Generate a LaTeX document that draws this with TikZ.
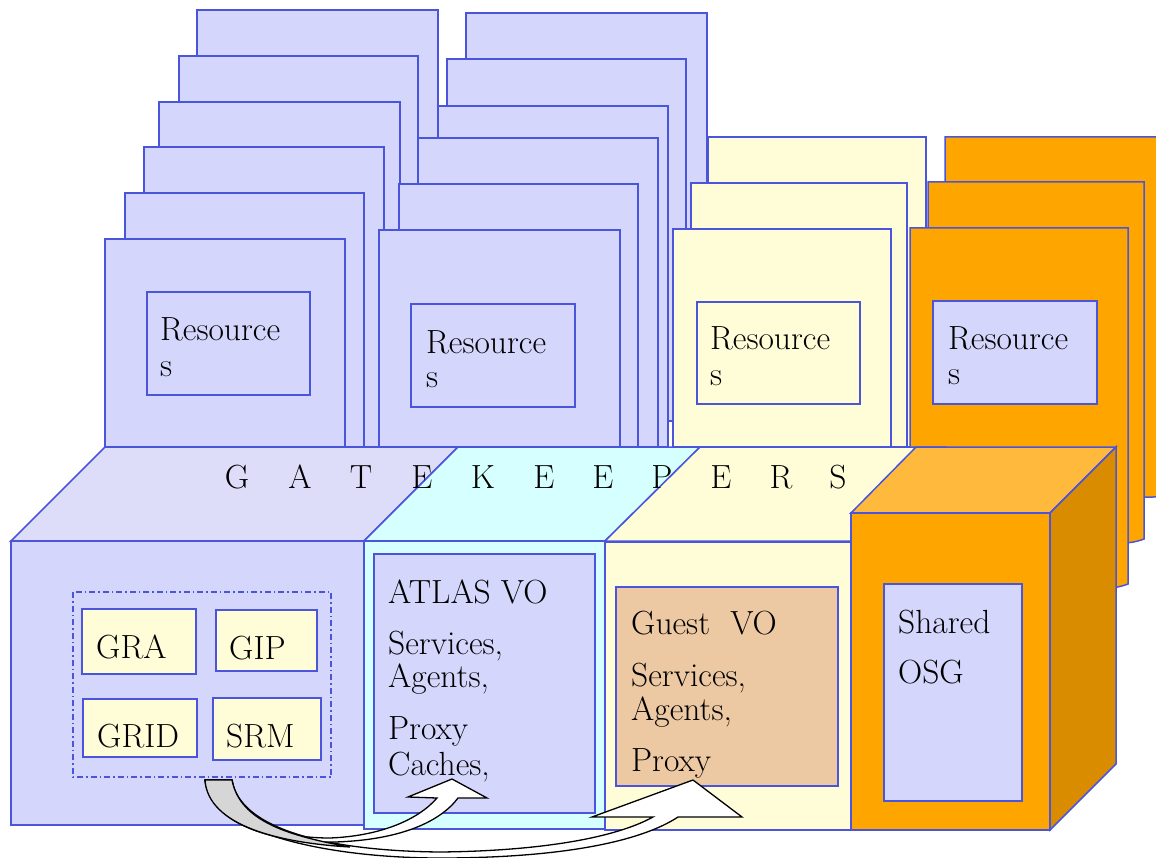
\documentclass[tikz,border=0pt]{standalone}
\definecolor{bl}{RGB}{75,85,220}
\definecolor{lavc}{RGB}{213,214,252}
\definecolor{lavtop}{RGB}{221,221,250}
\definecolor{cyanc}{RGB}{214,255,255}
\definecolor{yelc}{RGB}{255,253,216}
\definecolor{tanc}{RGB}{237,201,163}
\definecolor{orc}{RGB}{255,165,0}
\definecolor{ortop}{RGB}{255,185,60}
\definecolor{orside}{RGB}{218,140,0}
\definecolor{grayc}{RGB}{214,214,214}
\begin{document}
\begin{tikzpicture}[x=1pt,y=-1pt,
  edge/.style={draw=bl,line width=1.5pt,line join=miter},
  lavbox/.style={edge,fill=lavc},
  yelbox/.style={edge,fill=yelc},
  orbox/.style={edge,fill=orc},
  txt/.style={anchor=base west,inner sep=0pt,font=\fontsize{33.5}{40}\selectfont},
  gk/.style={anchor=base,inner sep=0pt,font=\fontsize{33.5}{40}\selectfont},
  arr/.style={draw=black,line width=1.3pt,line join=miter,fill=white},
]
\useasboundingbox (0,0) rectangle (1156,858);
\clip (0,0) rectangle (1156,858);
\fill[white] (0,0) rectangle (1156,858);

% left resource stack
\foreach \l/\t/\r in {197/10/438,179/56/418,159/102/400,144/147/384,125/193/364,105/239/345}
  \draw[lavbox] (\l,\t) rectangle (\r,447);
\draw[lavbox] (147,292) rectangle (310,395);
\node[txt] (r1a) at (160,341) {Resource};
\node[txt] (r1b) at (160,376) {s};

% middle resource stack
\foreach \l/\t/\r/\b in {466/13/707/421,447/59/686/421,438/106/668/447,418/138/658/447,399/184/638/447,379/230/620/447}
  \draw[lavbox] (\l,\t) rectangle (\r,\b);
\draw[lavbox] (411,304) rectangle (575,407);
\node[txt] (r2a) at (426,353) {Resource};
\node[txt] (r2b) at (426,387) {s};

% yellow resource stack
\foreach \l/\t/\r in {708/137/926,691/183/907,673/229/891}
  \draw[yelbox] (\l,\t) rectangle (\r,447);
\draw[yelbox] (697,302) rectangle (860,404);
\node[txt] (r3a) at (710,350) {Resource};
\node[txt] (r3b) at (710,385) {s};

% orange resource stack
\foreach \l/\t/\r/\b in {945/137/1175/497,928/182/1144/543,910/228/1128/588}
  \draw[orbox] (\l,\b) -- (\l,\t) -- (\r,\t) -- (\r,\b-4) .. controls (\r-8,\b-1) and (\r-14,\b) .. (\r-22,\b) -- cycle;
\draw[lavbox] (933,301) rectangle (1097,404);
\node[txt] (r4a) at (948,349) {Resource};
\node[txt] (r4b) at (948,384) {s};

% gatekeeper slab: left part
\draw[edge,fill=lavtop] (105,447) -- (458,447) -- (364,541) -- (11,541) -- cycle;
\draw[lavbox] (11,541) rectangle (364,825);
% cyan part
\draw[edge,fill=cyanc] (458,447) -- (700,447) -- (605,541) -- (364,541) -- cycle;
\draw[edge,fill=cyanc] (364,541) rectangle (605,829);
% yellow part
\draw[edge,fill=yelc] (700,447) -- (945,447) -- (851,541) -- (605,541) -- cycle;
\draw[edge,fill=yelc] (605,542) rectangle (851,830);
% orange cube
\draw[edge,fill=ortop] (851,513) -- (916,447) -- (1116,447) -- (1050,513) -- cycle;
\draw[edge,fill=orside] (1050,513) -- (1116,447) -- (1116,764) -- (1050,830) -- cycle;
\draw[edge,fill=orc] (851,513) rectangle (1050,830);

% GATEKEEPERS label
\foreach \c/\x [count=\i] in {G/237,A/300,T/361,E/422,K/483,E/544,E/603,P/662,E/721,R/781,S/838}
  \node[gk] (gk\i) at (\x,488) {\c};

% grid services group
\draw[draw=bl,line width=1.2pt,dash pattern=on 6pt off 3pt on 1.5pt off 3pt] (73,592) rectangle (331,777);
\draw[yelbox] (82,609) rectangle (196,674);
\node[txt] (gra) at (96,658) {GRA};
\draw[yelbox] (216,610) rectangle (317,671);
\node[txt] (gip) at (229,659) {GIP};
\draw[yelbox] (83,699) rectangle (197,757);
\node[txt] (grid) at (97,747) {GRID};
\draw[yelbox] (213,698) rectangle (321,760);
\node[txt] (srm) at (226,747) {SRM};

% ATLAS VO box
\draw[lavbox] (374,554) rectangle (595,813);
\node[txt] (atl1) at (388,603) {ATLAS VO};
\node[txt] (atl2) at (388,654) {Services,};
\node[txt] (atl3) at (388,687) {Agents,};
\node[txt] (atl4) at (388,739) {Proxy};
\node[txt] (atl5) at (388,775) {Caches,};

% Guest VO box
\draw[edge,fill=tanc] (616,587) rectangle (838,786);
\node[txt] (gst1) at (631,634) {Guest\ \ VO};
\node[txt] (gst2) at (631,686) {Services,};
\node[txt] (gst3) at (631,720) {Agents,};
\node[txt] (gst4) at (631,771) {Proxy};

% shared OSG box
\draw[lavbox] (884,584) rectangle (1022,801);
\node[txt] (osg1) at (898,633) {Shared};
\node[txt] (osg2) at (898,683) {OSG};

% curved block arrows
\draw[arr] (205,780) .. controls (208,830) and (320,858) .. (440,858)
  .. controls (560,858) and (640,842) .. (678,817)
  -- (742,817) -- (693,780) -- (592,817) -- (653,817)
  .. controls (615,838) and (540,851) .. (440,852)
  .. controls (330,851) and (240,830) .. (232,780) -- cycle;
\draw[arr] (205,780) .. controls (212,828) and (280,843) .. (335,842)
  .. controls (400,840) and (440,822) .. (458,798)
  -- (487,798) -- (452,779) -- (408,797) -- (437,798)
  .. controls (418,820) and (380,836) .. (330,838)
  .. controls (270,838) and (238,818) .. (232,780) -- cycle;
\draw[arr,fill=grayc] (205,780) .. controls (208,826) and (280,843) .. (350,847)
  .. controls (290,836) and (240,822) .. (232,780) -- cycle;
\end{tikzpicture}
\end{document}
